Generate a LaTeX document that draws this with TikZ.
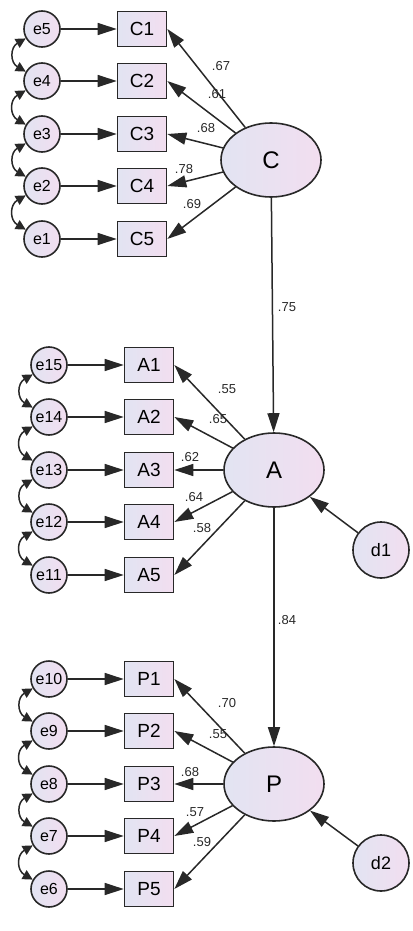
\documentclass[tikz,border=0pt]{standalone}
\usepackage{fontspec}
\setsansfont{Liberation Sans}
\usetikzlibrary{shapes.geometric,arrows.meta}
\definecolor{lavleft}{RGB}{226,228,242}
\definecolor{lavright}{RGB}{242,222,240}
\definecolor{edgegray}{RGB}{40,40,40}

\begin{document}
\begin{tikzpicture}[x=1pt,y=1pt,->,>={Triangle[length=19pt,width=12pt]},line width=1.5pt,draw=edgegray,
  shade box/.style={left color=lavleft,right color=lavright,draw=edgegray,line width=1.6pt},
  err node/.style={shade box,circle,minimum size=36pt,inner sep=0pt,font=\sffamily\fontsize{16}{16}\selectfont},
  obs node/.style={shade box,rectangle,minimum width=49pt,minimum height=35pt,inner sep=0pt,font=\sffamily\fontsize{19}{19}\selectfont},
  lat node/.style={shade box,ellipse,minimum width=100pt,minimum height=74pt,inner sep=0pt,font=\sffamily\fontsize{24}{24}\selectfont},
  dist node/.style={shade box,circle,minimum size=56pt,inner sep=0pt,font=\sffamily\fontsize{18}{18}\selectfont},
  coef/.style={font=\sffamily\fontsize{13}{13}\selectfont,text=edgegray,inner sep=0pt},
  cov/.style={<->,>={Triangle[length=10pt,width=10pt]},out=210,in=150,looseness=1.4}]

            \useasboundingbox (0,0) rectangle (412,-931);

            % C block
            \node[err node] (e5) at (42,-29) {e5};
            \node[err node] (e4) at (42,-81) {e4};
            \node[err node] (e3) at (42,-134) {e3};
            \node[err node] (e2) at (42,-186) {e2};
            \node[err node] (e1) at (42,-239) {e1};
            \node[obs node] (C1) at (142,-29) {C1};
            \node[obs node] (C2) at (142,-81) {C2};
            \node[obs node] (C3) at (142,-134) {C3};
            \node[obs node] (C4) at (142,-186) {C4};
            \node[obs node] (C5) at (142,-239) {C5};
            \node[lat node] (C) at (271,-160) {C};

            % A block
            \node[err node] (e15) at (49,-365) {e15};
            \node[err node] (e14) at (49,-417) {e14};
            \node[err node] (e13) at (49,-470) {e13};
            \node[err node] (e12) at (49,-522) {e12};
            \node[err node] (e11) at (49,-575) {e11};
            \node[obs node] (A1) at (149,-365) {A1};
            \node[obs node] (A2) at (149,-417) {A2};
            \node[obs node] (A3) at (149,-470) {A3};
            \node[obs node] (A4) at (149,-522) {A4};
            \node[obs node] (A5) at (149,-575) {A5};
            \node[lat node] (A) at (274,-470) {A};
            \node[dist node] (d1) at (381,-550) {d1};

            % P block
            \node[err node] (e10) at (49,-679) {e10};
            \node[err node] (e9) at (49,-731) {e9};
            \node[err node] (e8) at (49,-784) {e8};
            \node[err node] (e7) at (49,-836) {e7};
            \node[err node] (e6) at (49,-889) {e6};
            \node[obs node] (P1) at (149,-679) {P1};
            \node[obs node] (P2) at (149,-731) {P2};
            \node[obs node] (P3) at (149,-784) {P3};
            \node[obs node] (P4) at (149,-836) {P4};
            \node[obs node] (P5) at (149,-889) {P5};
            \node[lat node] (P) at (274,-784) {P};
            \node[dist node] (d2) at (381,-863) {d2};

            % coefficients
            \node[coef] (kC1) at (221,-66) {.67};
            \node[coef] (kC2) at (217,-94) {.61};
            \node[coef] (kC3) at (206,-128) {.68};
            \node[coef] (kC4) at (184,-169) {.78};
            \node[coef] (kC5) at (192,-204) {.69};
            \node[coef] (kCA) at (287,-307) {.75};
            \node[coef] (kA1) at (227,-389) {.55};
            \node[coef] (kA2) at (218,-419) {.65};
            \node[coef] (kA3) at (190,-457) {.62};
            \node[coef] (kA4) at (194,-497) {.64};
            \node[coef] (kA5) at (202,-528) {.58};
            \node[coef] (kAP) at (287,-620) {.84};
            \node[coef] (kP1) at (227,-703) {.70};
            \node[coef] (kP2) at (218,-734) {.55};
            \node[coef] (kP3) at (190,-772) {.68};
            \node[coef] (kP4) at (195,-812) {.57};
            \node[coef] (kP5) at (202,-842) {.59};

            \path
                (e5) edge (C1)
                (e4) edge (C2)
                (e3) edge (C3)
                (e2) edge (C4)
                (e1) edge (C5)
                (C) edge (C1.east)
                (C) edge (C2.east)
                (C) edge (C3.east)
                (C) edge (C4.east)
                (C) edge (C5.east)
                (e15) edge (A1)
                (e14) edge (A2)
                (e13) edge (A3)
                (e12) edge (A4)
                (e11) edge (A5)
                (A) edge (A1.east)
                (A) edge (A2.east)
                (A) edge (A3.east)
                (A) edge (A4.east)
                (A) edge (A5.east)
                (e10) edge (P1)
                (e9) edge (P2)
                (e8) edge (P3)
                (e7) edge (P4)
                (e6) edge (P5)
                (P) edge (P1.east)
                (P) edge (P2.east)
                (P) edge (P3.east)
                (P) edge (P4.east)
                (P) edge (P5.east)
                (C) edge (A)
                (A) edge (P)
                (d1) edge (A)
                (d2) edge (P)
            ;

            \path
                (e5) edge[cov] (e4)
                (e4) edge[cov] (e3)
                (e3) edge[cov] (e2)
                (e2) edge[cov] (e1)
                (e15) edge[cov] (e14)
                (e14) edge[cov] (e13)
                (e13) edge[cov] (e12)
                (e12) edge[cov] (e11)
                (e10) edge[cov] (e9)
                (e9) edge[cov] (e8)
                (e8) edge[cov] (e7)
                (e7) edge[cov] (e6)
            ;
        \end{tikzpicture}
\end{document}
